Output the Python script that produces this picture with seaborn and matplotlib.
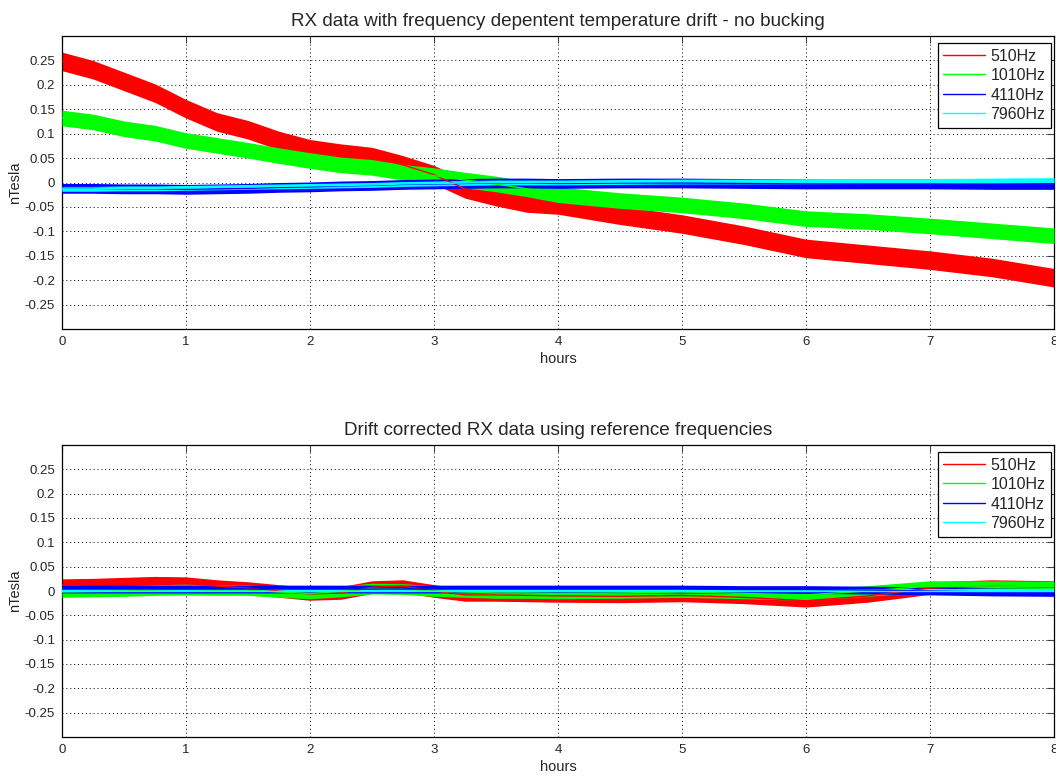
import numpy as np
import pandas as pd
import matplotlib
matplotlib.use("Agg")
import matplotlib.pyplot as plt
import seaborn as sns

# ---------------- data ----------------
hours = [0, 0.25, 0.5, 0.75, 1, 1.25, 1.5, 1.75, 2, 2.25, 2.5, 2.75, 3, 3.25,
         3.5, 3.75, 4, 4.5, 5, 5.5, 6, 6.5, 7, 7.5, 8]
series_names = ["510Hz", "1010Hz", "4110Hz", "7960Hz"]

# top panel: raw data with drift (band centre)
top_510 = [0.248, 0.231, 0.207, 0.183, 0.151, 0.124, 0.108, 0.086, 0.069, 0.060,
           0.053, 0.036, 0.016, -0.013, -0.029, -0.042, -0.046, -0.067, -0.085,
           -0.108, -0.135, -0.147, -0.159, -0.174, -0.195]
top_1010 = [0.132, 0.124, 0.110, 0.101, 0.086, 0.076, 0.066, 0.055, 0.045, 0.036,
            0.031, 0.021, 0.014, 0.005, -0.003, -0.013, -0.025, -0.037, -0.046,
            -0.058, -0.074, -0.080, -0.089, -0.099, -0.109]
top_4110 = [-0.012, -0.012, -0.013, -0.013, -0.014, -0.013, -0.012, -0.010, -0.009,
            -0.007, -0.006, -0.004, -0.003, -0.002, -0.001, -0.001, -0.002, -0.001,
            -0.001, -0.002, -0.003, -0.003, -0.003, -0.004, -0.004]
top_7960 = [-0.013, -0.013, -0.012, -0.012, -0.011, -0.010, -0.009, -0.008, -0.007,
            -0.006, -0.005, -0.003, -0.002, -0.001, 0.000, 0.000, 0.000, 0.001,
            0.002, 0.002, 0.002, 0.003, 0.003, 0.004, 0.005]
top_noise = [0.019, 0.016, 0.010, 0.005]   # half-width of the noise band

# bottom panel: drift corrected
bot_510 = [0.012, 0.013, 0.015, 0.017, 0.016, 0.010, 0.006, 0.000, -0.006, -0.004,
           0.008, 0.010, 0.000, -0.008, -0.008, -0.009, -0.010, -0.011, -0.009,
           -0.013, -0.020, -0.010, 0.006, 0.010, 0.008]
bot_1010 = [-0.002, -0.001, 0.000, 0.002, 0.003, 0.002, 0.002, -0.002, -0.005, -0.001,
            0.005, 0.004, 0.000, -0.002, -0.004, -0.004, -0.005, -0.004, -0.002,
            -0.005, -0.008, 0.000, 0.010, 0.010, 0.009]
bot_4110 = [0.004, 0.004, 0.004, 0.004, 0.004, 0.004, 0.004, 0.004, 0.004, 0.004,
            0.004, 0.004, 0.004, 0.004, 0.004, 0.004, 0.004, 0.004, 0.004, 0.003,
            0.003, 0.002, 0.000, -0.002, -0.003]
bot_7960 = [0.001] * 25
bot_noise = [0.013, 0.011, 0.008, 0.003]

y_ticks = [-0.25, -0.2, -0.15, -0.1, -0.05, 0, 0.05, 0.1, 0.15, 0.2, 0.25]
y_tick_labels = ["-0.25", "-0.2", "-0.15", "-0.1", "-0.05", "0", "0.05", "0.1",
                 "0.15", "0.2", "0.25"]
x_ticks = [0, 1, 2, 3, 4, 5, 6, 7, 8]

titles = ["RX data with frequency depentent temperature drift - no bucking",
          "Drift corrected RX data using reference frequencies"]

# ---------------- style ----------------
sns.set_style("white")
plt.rcParams["font.family"] = ["Liberation Sans", "DejaVu Sans"]
colors = ["#ff0000", "#00ff00", "#0000ff", "#00ffff"]

fig = plt.figure(figsize=(10.56, 7.76), dpi=100)
ax_top = fig.add_axes([62 / 1056, 1 - 329 / 776, 992 / 1056, 293 / 776])
ax_bot = fig.add_axes([62 / 1056, 1 - 737 / 776, 992 / 1056, 292 / 776])

panels = [
    (ax_top, [top_510, top_1010, top_4110, top_7960], top_noise, titles[0]),
    (ax_bot, [bot_510, bot_1010, bot_4110, bot_7960], bot_noise, titles[1]),
]

for ax, vals, noise, title in panels:
    rows = []
    for name, v in zip(series_names, vals):
        for h, y in zip(hours, v):
            rows.append({"hours": h, "nTesla": y, "series": name})
    df = pd.DataFrame(rows)
    for i, name in enumerate(series_names):
        sub = df[df["series"] == name]
        y = sub["nTesla"].to_numpy()
        ax.fill_between(sub["hours"], y - noise[i], y + noise[i],
                        color=colors[i], lw=0, zorder=2 + i)
    sns.lineplot(data=df, x="hours", y="nTesla", hue="series",
                 hue_order=series_names, palette=colors, lw=1, ax=ax,
                 legend=False, zorder=6)
    ax.set_xlim(0, 8)
    ax.set_ylim(-0.3, 0.3)
    ax.set_xticks(x_ticks)
    ax.set_xticklabels([str(t) for t in x_ticks])
    ax.set_yticks(y_ticks)
    ax.set_yticklabels(y_tick_labels)
    ax.tick_params(direction="in", length=5, width=0.8, color="#444444",
                   top=True, right=True, labelsize=9.5, pad=5)
    ax.grid(True, color="black", linestyle=(0, (1, 3)), linewidth=0.7)
    for s in ax.spines.values():
        s.set_color("black")
        s.set_linewidth(0.9)
    ax.set_title(title, fontsize=13.6, pad=7)
    ax.set_xlabel("hours", fontsize=10.5, labelpad=3)
    ax.set_ylabel("nTesla", fontsize=10.5, labelpad=2)
    handles = [plt.Line2D([], [], color=c, lw=1) for c in colors]
    leg = ax.legend(handles, series_names, loc="upper right",
                    bbox_to_anchor=(1 - 3 / 992, 1 - 7 / 293), borderaxespad=0,
                    fontsize=11.5, frameon=True, fancybox=False,
                    edgecolor="black", framealpha=1, handlelength=2.6,
                    labelspacing=0.28, borderpad=0.35, handletextpad=0.35)
    leg.get_frame().set_linewidth(0.9)
    leg.set_zorder(10)

fig.savefig("out.png", dpi=100)
